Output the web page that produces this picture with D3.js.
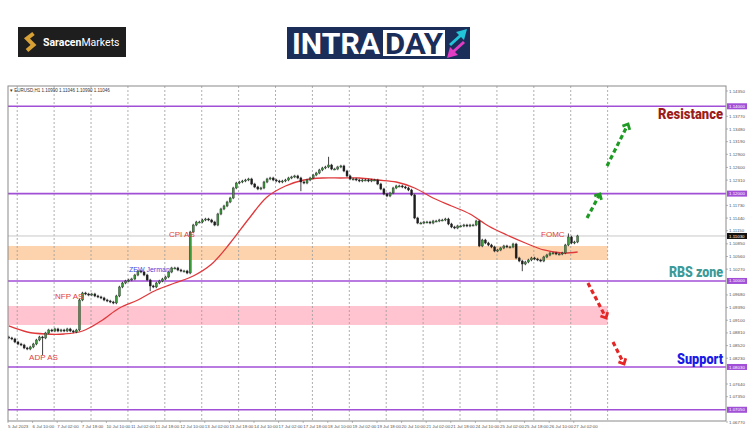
<!DOCTYPE html>
<html><head><meta charset="utf-8">
<script src="https://cdn.jsdelivr.net/npm/d3@7"></script>
<style>body{margin:0;background:#fff}svg{display:block}</style>
</head><body><svg id="c" width="750" height="430"></svg>
<script>
// ---------- DATA ----------
const symbolLegend = "EURUSD,H1  1.10990 1.11046 1.10990 1.11046";
const firstOpen = 1.08717;
// 2-hour closes (5 Jul 18:00 -> 27 Jul 04:00)
const closes = [
1.08694,1.08671,1.08602,1.08556,1.08533,1.08465,1.08442,1.08488,1.08556,1.08648,
1.08717,1.08694,1.08808,1.08877,1.08854,1.08900,1.08854,1.08877,1.08854,1.08900,
1.08854,1.08831,1.08877,1.09564,1.09724,1.09701,1.09678,1.09701,1.09656,1.09633,
1.09610,1.09564,1.09541,1.09518,1.09495,1.09656,1.09862,1.09953,1.09999,1.10022,
1.10045,1.10136,1.10228,1.10205,1.10136,1.10022,1.09885,1.09862,1.09953,1.09999,
1.10045,1.10091,1.10205,1.10297,1.10297,1.10251,1.10228,1.10228,1.10182,1.11121,
1.11281,1.11350,1.11350,1.11396,1.11419,1.11396,1.11350,1.11281,1.11533,1.11648,
1.11717,1.11808,1.11900,1.12129,1.12243,1.12266,1.12289,1.12312,1.12335,1.12220,
1.12152,1.12106,1.12129,1.12266,1.12335,1.12358,1.12312,1.12289,1.12266,1.12289,
1.12312,1.12358,1.12381,1.12404,1.12358,1.12266,1.12243,1.12312,1.12358,1.12426,
1.12472,1.12541,1.12587,1.12610,1.12655,1.12564,1.12564,1.12610,1.12633,1.12518,
1.12404,1.12335,1.12335,1.12312,1.12289,1.12312,1.12312,1.12289,1.12312,1.12312,
1.12220,1.12106,1.11991,1.11946,1.12014,1.12129,1.12175,1.12175,1.12152,1.12129,
1.12083,1.11968,1.11442,1.11327,1.11327,1.11350,1.11350,1.11327,1.11373,1.11373,
1.11396,1.11396,1.11419,1.11304,1.11236,1.11213,1.11259,1.11259,1.11281,1.11259,
1.11281,1.11281,1.11373,1.10801,1.10938,1.10869,1.10823,1.10778,1.10686,1.10709,
1.10755,1.10801,1.10778,1.10778,1.10846,1.10526,1.10457,1.10388,1.10434,1.10480,
1.10526,1.10503,1.10480,1.10457,1.10549,1.10594,1.10640,1.10640,1.10617,1.10617,
1.10640,1.10823,1.11007,1.10869,1.10892,1.11030
];
// notable wicks: [bar, high, low]
const wickSpikes = [[11,null,1.08327],[46,null,1.09793],[95,null,1.12083],[104,1.12816,null],[167,null,1.10251],[182,1.11060,null]];
// moving average (red) read at these bars
const maBars   = [0,6,12,18,24,30,36,42,48,54,60,66,72,78,84,90,96,102,108,114,120,126,132,138,144,150,156,162,168,174,180,185];
const maValues = [1.08969,1.08831,1.08785,1.08785,1.08854,1.09083,1.09381,1.09564,1.09793,1.09953,1.10114,1.10388,1.10869,1.11419,1.11923,1.12175,1.12312,1.12358,1.12358,1.12358,1.12312,1.12266,1.12129,1.11900,1.11717,1.11533,1.11259,1.11052,1.10869,1.10709,1.10640,1.10663];
const levels = [1.14000,1.12000,1.10000,1.08030,1.07050];
const zoneOrange = [1.10801,1.10480];
const zonePink = [1.09427,1.08992];
const currentPrice = 1.11030;
const priceTicks = ["1.14350","1.13770","1.13480","1.13190","1.12900","1.12600","1.12310","1.11730","1.11440","1.11150","1.10850","1.10560","1.10270","1.09680","1.09390","1.09100","1.08810","1.08520","1.08230","1.07640","1.07350","1.06770"];
const timeLabels = ["5 Jul 2023","6 Jul 10:00","7 Jul 02:00","7 Jul 18:00","10 Jul 10:00","11 Jul 02:00","11 Jul 18:00","12 Jul 10:00","13 Jul 02:00","13 Jul 18:00","14 Jul 10:00","17 Jul 02:00","17 Jul 18:00","18 Jul 10:00","19 Jul 02:00","19 Jul 18:00","20 Jul 10:00","21 Jul 02:00","21 Jul 18:00","24 Jul 10:00","25 Jul 02:00","25 Jul 18:00","26 Jul 10:00","27 Jul 02:00"];
const timeLabelHours = [0,16,32,48,64,80,96,112,128,144,160,176,192,208,224,240,256,272,288,304,320,336,352,368];
const dayStartHours = [6,30,54,78,102,126,150,174,198,222,246,270,294,318,342,366,390];
const eventNames = ["ADP AS","NFP AS","ZEW Jerman","CPI AS","FOMC"];
const eventHours = [13.7,30.6,78.7,104.7,346.7];
const eventPrices = [1.08190,1.09587,1.10205,1.11007,1.11007];
const zoneNames = ["Resistance","RBS zone","Support"];
const zoneNamePrices = [1.13709,1.10091,1.08098];
// arrows: [h0,p0,h1,p1]
const upArrows = [[389.6,1.12633,403.3,1.13594],[376.6,1.11442,385.0,1.11991]];
const downArrows = [[377.2,1.09953,389.0,1.09152],[393.5,1.08602,400.7,1.08098]];

// ---------- DRAW ----------
const svg = d3.select("#c");
const L = 8, R = 726, T = 86, B = 421;
const x = d3.scaleLinear().domain([0, 467]).range([L, R]);
const y = d3.scaleLinear().domain([1.06770, 1.14350]).range([422, 91]);
const barH = j => 2*j + 0.5;

// logos
const sar = svg.append("g");
sar.append("rect").attr("x",18).attr("y",27).attr("width",108).attr("height",30).attr("fill","#1e1e1e");
sar.append("polyline").attr("points","33.5,33.5 27,38.5 33.5,45 27,50.5")
  .attr("fill","none").attr("stroke","#d7a136").attr("stroke-width",4).attr("stroke-linejoin","miter");
const st = sar.append("text").attr("x",43).attr("y",46).attr("fill","#fff")
  .style("font-family","Roboto, 'Open Sans', sans-serif").style("font-size","10.5px");
st.append("tspan").attr("font-weight","bold").text("Saracen");
st.append("tspan").attr("font-weight","normal").text("Markets");

const itd = svg.append("g");
itd.append("rect").attr("x",287).attr("y",27).attr("width",183).attr("height",32).attr("fill","#1b2e5a");
itd.append("text").attr("x",292).attr("y",53.5).attr("fill","#fff")
  .attr("textLength",88).attr("lengthAdjust","spacingAndGlyphs")
  .style("font-family","'Liberation Sans Narrow', Roboto, sans-serif").style("font-weight","bold").style("font-size","29px").text("INTRA");
itd.append("rect").attr("x",383).attr("y",30).attr("width",62).attr("height",26).attr("fill","#fff");
itd.append("text").attr("x",385).attr("y",53.5).attr("fill","#1b2e5a")
  .attr("textLength",58).attr("lengthAdjust","spacingAndGlyphs")
  .style("font-family","'Liberation Sans Narrow', Roboto, sans-serif").style("font-weight","bold").style("font-size","29px").text("DAY");
itd.append("path").attr("d","M449,44 L459,35 L456,32 L467,29 L464,40 L461,37 L451,46 Z").attr("fill","#22c4d8");
itd.append("path").attr("d","M465,43 L455,52 L458,55 L447,58 L450,47 L453,50 L463,41 Z").attr("fill","#e23bc4");

// plot
const plot = svg.append("g");
plot.append("defs").append("clipPath").attr("id","clip").append("rect")
  .attr("x",L).attr("y",T).attr("width",R-L).attr("height",B-T);
const pg = plot.append("g").attr("clip-path","url(#clip)");

// zones
[[zoneOrange,"#fcd3ad"],[zonePink,"#ffc4cf"]].forEach(([z,col])=>{
  pg.append("rect").attr("x",x(0)).attr("width",x(390)-x(0))
    .attr("y",y(z[0])).attr("height",y(z[1])-y(z[0])).attr("fill",col);
});
// grid
pg.selectAll("line.grid").data(dayStartHours).join("line").attr("class","grid")
  .attr("x1",d=>x(d)).attr("x2",d=>x(d)).attr("y1",T).attr("y2",B)
  .attr("stroke","#9a9a9a").attr("stroke-width",0.8).attr("stroke-dasharray","2,2");
// current price line
pg.append("line").attr("x1",L).attr("x2",R).attr("y1",y(currentPrice)).attr("y2",y(currentPrice))
  .attr("stroke","#c8c8c8").attr("stroke-width",1);
// levels
pg.selectAll("line.lvl").data(levels).join("line").attr("class","lvl")
  .attr("x1",L).attr("x2",R).attr("y1",d=>y(d)).attr("y2",d=>y(d))
  .attr("stroke","#a24fd8").attr("stroke-width",1.6);

// MA
const maLine = d3.line().x(d=>x(barH(d[0]))).y(d=>y(d[1])).curve(d3.curveCatmullRom);
pg.append("path").attr("d",maLine(maBars.map((b,i)=>[b,maValues[i]])))
  .attr("fill","none").attr("stroke","#e0393c").attr("stroke-width",1.3);

// candles
const candles = closes.map((c,j)=>{
  const o = j===0 ? firstOpen : closes[j-1];
  let hi = Math.max(o,c), lo = Math.min(o,c);
  const sp = wickSpikes.find(s=>s[0]===j);
  if (sp) { if (sp[1]!==null) hi = sp[1]; if (sp[2]!==null) lo = sp[2]; }
  return {j,o,c,hi,lo};
});
const cg = pg.append("g");
cg.selectAll("line.w").data(candles).join("line").attr("class","w")
  .attr("x1",d=>x(barH(d.j))).attr("x2",d=>x(barH(d.j)))
  .attr("y1",d=>y(d.hi)-1.2).attr("y2",d=>y(d.lo)+1.2)
  .attr("stroke","#2b2b2b").attr("stroke-width",0.9);
cg.selectAll("rect.b").data(candles).join("rect").attr("class","b")
  .attr("x",d=>x(barH(d.j))-1).attr("width",2)
  .attr("y",d=>y(Math.max(d.o,d.c))).attr("height",d=>Math.max(1,Math.abs(y(d.o)-y(d.c))))
  .attr("fill",d=>d.c>=d.o?"#3c9a3c":"#1c1c1c").attr("stroke","#2b2b2b").attr("stroke-width",0.4);

// frame
plot.append("rect").attr("x",L).attr("y",T).attr("width",R-L).attr("height",B-T)
  .attr("fill","none").attr("stroke","#8a8a8a").attr("stroke-width",1);

// legend
svg.append("text").attr("x",10).attr("y",91.5).attr("fill","#333")
  .style("font-family","Arial, 'Liberation Sans', sans-serif").style("font-size","4.5px")
  .text("▾ " + symbolLegend);

// price axis
const ax = svg.append("g").style("font-family","Arial, 'Liberation Sans', sans-serif").style("font-size","4.4px");
ax.selectAll("text.pt").data(priceTicks).join("text").attr("class","pt")
  .attr("x",729).attr("y",d=>y(+d)).attr("dy","0.35em").attr("fill","#555").text(d=>d);
ax.selectAll("line.pt").data(priceTicks).join("line").attr("class","pt")
  .attr("x1",R).attr("x2",R+2).attr("y1",d=>y(+d)).attr("y2",d=>y(+d)).attr("stroke","#888").attr("stroke-width",0.6);
levels.forEach(v=>{
  ax.append("rect").attr("x",727).attr("y",y(v)-3).attr("width",20).attr("height",6).attr("fill","#a24fd8");
  ax.append("text").attr("x",729).attr("y",y(v)).attr("dy","0.35em").attr("fill","#fff").text(v.toFixed(5));
});
ax.append("rect").attr("x",727).attr("y",y(currentPrice)-3).attr("width",20).attr("height",6).attr("fill","#111");
ax.append("text").attr("x",729).attr("y",y(currentPrice)).attr("dy","0.35em").attr("fill","#fff").text(currentPrice.toFixed(5));

// time axis
ax.selectAll("text.tl").data(timeLabels).join("text").attr("class","tl")
  .attr("x",(d,i)=>x(timeLabelHours[i])).attr("y",427.5).attr("fill","#555").text(d=>d);
ax.selectAll("line.tl").data(timeLabelHours).join("line").attr("class","tl")
  .attr("x1",d=>x(d)).attr("x2",d=>x(d)).attr("y1",B).attr("y2",B+2).attr("stroke","#888").attr("stroke-width",0.6);

// event notes
const evColors = ["#e2403c","#e2403c","#4646d6","#e2403c","#e2403c"];
svg.selectAll("text.ev").data(eventNames).join("text").attr("class","ev")
  .attr("x",(d,i)=>x(eventHours[i])).attr("y",(d,i)=>y(eventPrices[i]))
  .attr("fill",(d,i)=>evColors[i])
  .style("font-family","Arial, 'Liberation Sans', sans-serif")
  .style("font-size",(d,i)=>i===2?"7px":"8px").text(d=>d);

// zone names
const znColors = ["#9c1b1b","#3c9a98","#1a1ae6"];
const znWidths = [65,54,46];
svg.selectAll("text.zn").data(zoneNames).join("text").attr("class","zn")
  .attr("x",(d,i)=>723-znWidths[i]).attr("y",(d,i)=>y(zoneNamePrices[i]))
  .attr("textLength",(d,i)=>znWidths[i]).attr("lengthAdjust","spacingAndGlyphs")
  .attr("fill",(d,i)=>znColors[i])
  .style("font-family","Roboto, 'Open Sans', sans-serif").style("font-weight","900")
  .style("font-size","14px").text(d=>d);

// arrows
function arrow(a, col){
  const x0=x(a[0]), y0=y(a[1]), x1=x(a[2]), y1=y(a[3]);
  const ang = Math.atan2(y1-y0, x1-x0);
  svg.append("line").attr("x1",x0).attr("y1",y0)
    .attr("x2",x1-2*Math.cos(ang)).attr("y2",y1-2*Math.sin(ang))
    .attr("stroke",col).attr("stroke-width",3.2).attr("stroke-dasharray","4.5,3");
  const s=6, w=0.75;
  const p1=[x1-s*Math.cos(ang-w), y1-s*Math.sin(ang-w)];
  const p2=[x1-s*Math.cos(ang+w), y1-s*Math.sin(ang+w)];
  svg.append("polyline").attr("points",`${p1} ${x1},${y1} ${p2}`)
    .attr("fill","none").attr("stroke",col).attr("stroke-width",2.8).attr("stroke-linejoin","miter");
}
upArrows.forEach(a=>arrow(a,"#1f9a25"));
downArrows.forEach(a=>arrow(a,"#e32626"));
</script></body></html>
